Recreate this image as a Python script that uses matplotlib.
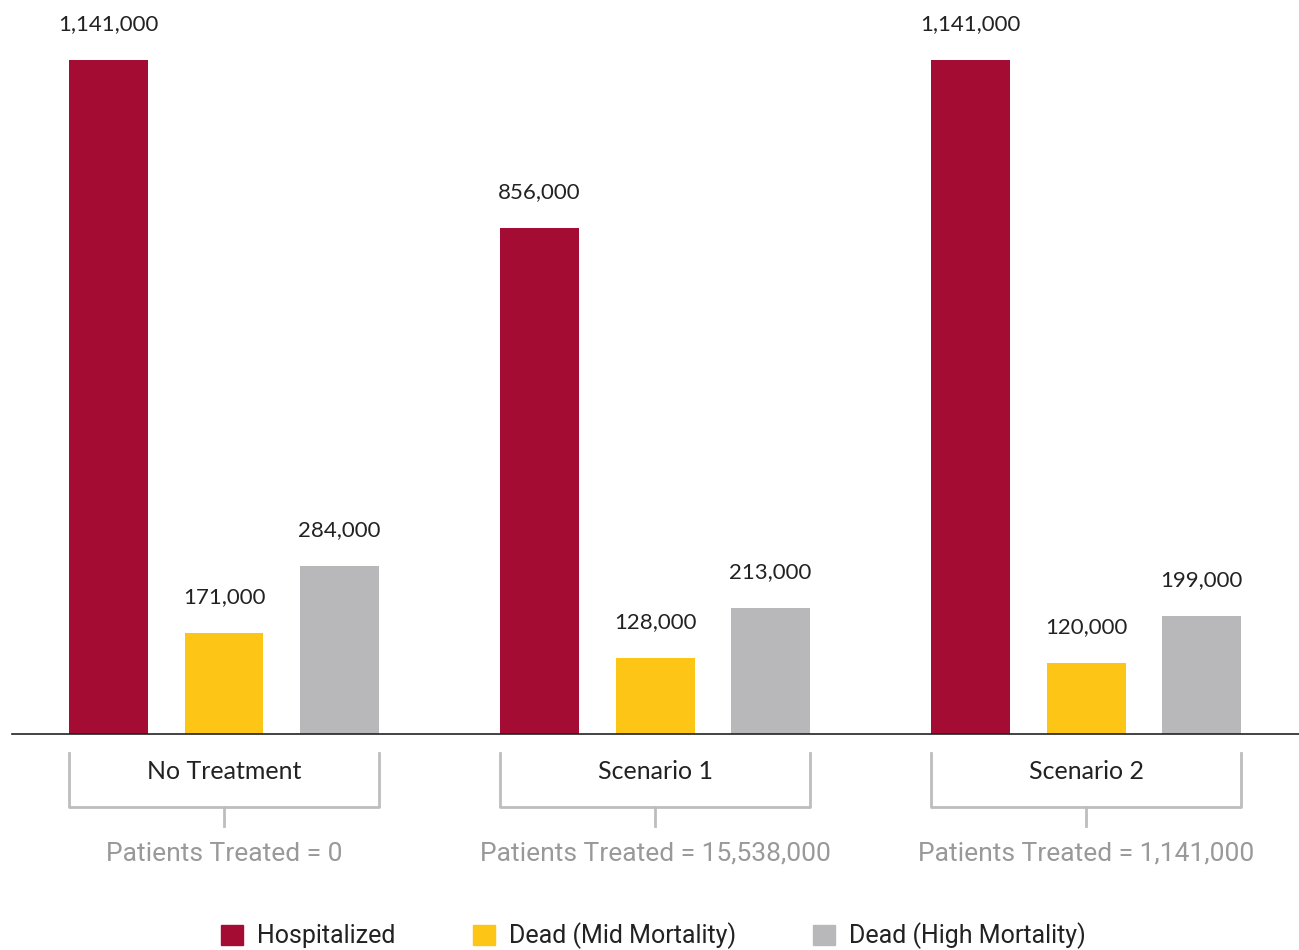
import numpy as np
import matplotlib.pyplot as plt
from matplotlib.patches import Patch

# Data
groups = ['No Treatment', 'Scenario 1', 'Scenario 2']
treated = ['Patients Treated = 0', 'Patients Treated = 15,538,000', 'Patients Treated = 1,141,000']
series = ['Hospitalized', 'Dead (Mid Mortality)', 'Dead (High Mortality)']
hospitalized = [1141000, 856000, 1141000]
dead_mid = [171000, 128000, 120000]
dead_high = [284000, 213000, 199000]
colors = ['#A50C34', '#FDC516', '#B8B8BB']

fig = plt.figure(figsize=(12.99, 9.5), dpi=100)
ax = fig.add_axes([12/1299, 1 - 734/950, 1 - 12/1299, 734/950])

x = np.arange(len(groups))
off = 0.268
w = 0.183
vals = [hospitalized, dead_mid, dead_high]
for i, v in enumerate(vals):
    bars = ax.bar(x + (i - 1) * off, v, width=w, color=colors[i], zorder=2)
    for b, val in zip(bars, v):
        ax.annotate(f'{val:,}', (b.get_x() + b.get_width() / 2, val),
                    xytext=(0, 26), textcoords='offset points', ha='center', va='center',
                    fontsize=16, family='Lato', color='#222222')

ax.set_xlim(-0.492, 2.494)
ax.set_ylim(0, 1141000 * 734 / 674)
for s in ['top', 'right', 'left']:
    ax.spines[s].set_visible(False)
ax.spines['bottom'].set_color('#222222')
ax.spines['bottom'].set_linewidth(1.2)
ax.set_xticks([])
ax.set_yticks([])

# brackets under each group
tr = ax.get_xaxis_transform()
lc = '#BDBDBD'
for g in range(len(groups)):
    l = x[g] - off - w / 2
    r = x[g] + off + w / 2
    ax.plot([l, l, r, r], [-0.026, -0.1, -0.1, -0.026], color=lc, lw=2, transform=tr, clip_on=False)
    ax.plot([x[g], x[g]], [-0.1, -0.126], color=lc, lw=2, transform=tr, clip_on=False)
    ax.text(x[g], -0.051, groups[g], transform=tr, ha='center', va='center',
            fontsize=18, family='Lato', color='#222222')
    ax.text(x[g], -0.163, treated[g], transform=tr, ha='center', va='center',
            fontsize=19, family='Roboto', color='#999999')

handles = [Patch(color=c, label=s) for c, s in zip(colors, series)]
fig.legend(handles=handles, loc='center', bbox_to_anchor=(0.503, 1 - 936/950), ncol=3,
           frameon=False, prop={'family': 'Roboto', 'size': 18}, handlelength=0.88,
           handleheight=0.88, handletextpad=0.55, columnspacing=3.1, labelcolor='#222222')

fig.savefig('out.png', dpi=100)
